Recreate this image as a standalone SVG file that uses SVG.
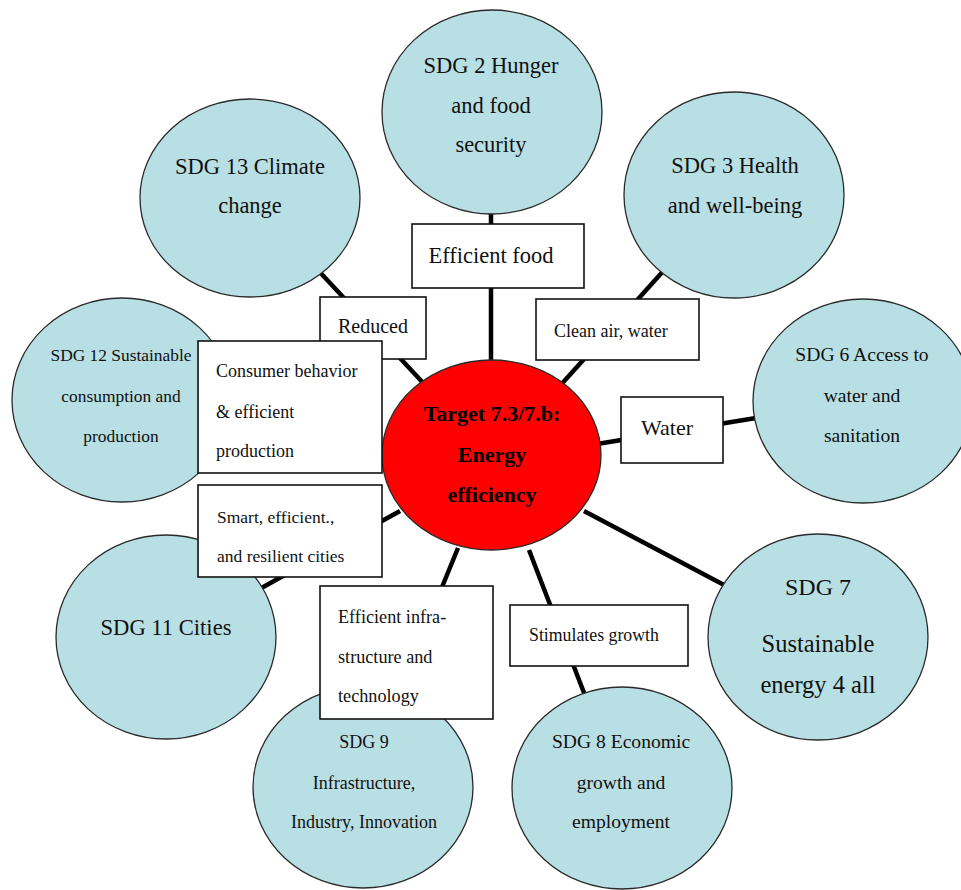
<svg xmlns="http://www.w3.org/2000/svg" width="961" height="890" viewBox="0 0 961 890">
  <style>
    .sdg { fill: #b8dfe3; stroke: #2a2a2a; stroke-width: 1.3; }
    .hub { fill: #ff0000; stroke: #2a2a2a; stroke-width: 1.3; }
    .box { fill: #ffffff; stroke: #111111; stroke-width: 1.6; }
    .link { stroke: #000000; stroke-width: 4.5; fill: none; }
    text { font-family: "Liberation Serif", "Times New Roman", serif; fill: #111111; }
    .c { text-anchor: middle; }
    .hubtxt { font-weight: bold; font-size: 22px; text-anchor: middle; fill: #000; }
  </style>

  <!-- connectors from the hub to each goal -->
  <g id="connectors">
    <line class="link" x1="491" y1="212" x2="491" y2="362"/>
    <line class="link" x1="316" y1="268" x2="426" y2="386"/>
    <line class="link" x1="666" y1="268" x2="558" y2="388"/>
    <line class="link" x1="597" y1="444" x2="756" y2="418"/>
    <line class="link" x1="584" y1="511" x2="726" y2="586"/>
    <line class="link" x1="529" y1="550" x2="586" y2="698"/>
    <line class="link" x1="458" y1="548" x2="440" y2="592"/>
    <line class="link" x1="400" y1="511" x2="256" y2="591"/>
    <line class="link" x1="230" y1="405" x2="378" y2="418"/>
  </g>

  <g id="sdg2">
    <ellipse class="sdg" cx="492" cy="112" rx="110" ry="102"/>
    <text class="c" x="491" y="73" font-size="22.5">SDG 2 Hunger</text>
    <text class="c" x="491" y="113" font-size="22.5">and food</text>
    <text class="c" x="491" y="152" font-size="22.5">security</text>
  </g>

  <g id="sdg13">
    <ellipse class="sdg" cx="250" cy="198" rx="110" ry="99"/>
    <text class="c" x="250" y="174" font-size="22.5">SDG 13 Climate</text>
    <text class="c" x="250" y="213" font-size="22.5">change</text>
  </g>

  <g id="sdg3">
    <ellipse class="sdg" cx="734" cy="195" rx="110" ry="103"/>
    <text class="c" x="735" y="173" font-size="22.5">SDG 3 Health</text>
    <text class="c" x="735" y="213" font-size="22.5">and well-being</text>
  </g>

  <g id="sdg12">
    <ellipse class="sdg" cx="122" cy="400" rx="110" ry="102"/>
    <text class="c" x="121" y="361" font-size="17.4">SDG 12 Sustainable</text>
    <text class="c" x="121" y="402" font-size="17.4">consumption and</text>
    <text class="c" x="121" y="442" font-size="17.4">production</text>
  </g>

  <g id="sdg6">
    <ellipse class="sdg" cx="863" cy="401" rx="110" ry="102"/>
    <text class="c" x="862" y="361" font-size="19.6">SDG 6 Access to</text>
    <text class="c" x="862" y="402" font-size="19.6">water and</text>
    <text class="c" x="862" y="442" font-size="19.6">sanitation</text>
  </g>

  <g id="sdg7">
    <ellipse class="sdg" cx="818" cy="637" rx="110" ry="103"/>
    <text class="c" x="818" y="595" font-size="24">SDG 7</text>
    <text class="c" x="818" y="652" font-size="24.5">Sustainable</text>
    <text class="c" x="818" y="693" font-size="24.5">energy 4 all</text>
  </g>

  <g id="sdg11">
    <ellipse class="sdg" cx="166" cy="637" rx="110" ry="102"/>
    <text class="c" x="166" y="635" font-size="22.6">SDG 11 Cities</text>
  </g>

  <g id="sdg9">
    <ellipse class="sdg" cx="363" cy="787" rx="110" ry="101"/>
    <text class="c" x="364" y="748" font-size="18">SDG 9</text>
    <text class="c" x="364" y="789" font-size="18">Infrastructure,</text>
    <text class="c" x="364" y="828" font-size="18">Industry, Innovation</text>
  </g>

  <g id="sdg8">
    <ellipse class="sdg" cx="622" cy="788" rx="110" ry="101"/>
    <text class="c" x="621" y="748" font-size="19.6">SDG 8 Economic</text>
    <text class="c" x="621" y="789" font-size="19.6">growth and</text>
    <text class="c" x="621" y="828" font-size="19.6">employment</text>
  </g>

  <!-- central target -->
  <g id="target">
    <ellipse class="hub" cx="491.5" cy="455" rx="109.5" ry="95"/>
    <text class="hubtxt" x="492" y="421">Target 7.3/7.b:</text>
    <text class="hubtxt" x="492" y="462">Energy</text>
    <text class="hubtxt" x="492" y="502">efficiency</text>
  </g>

  <!-- link labels -->
  <g id="label-food">
    <rect class="box" x="412" y="224" width="172" height="64"/>
    <text class="c" x="491" y="263" font-size="22.5">Efficient food</text>
  </g>

  <g id="label-reduced">
    <rect class="box" x="320" y="297" width="106" height="62"/>
    <text class="c" x="373" y="333" font-size="20">Reduced</text>
  </g>

  <g id="label-clean">
    <rect class="box" x="536" y="299" width="163" height="61"/>
    <text x="554" y="337" font-size="18">Clean air, water</text>
  </g>

  <g id="label-consumer">
    <rect class="box" x="198" y="341" width="184" height="132"/>
    <text x="216" y="377" font-size="18">Consumer behavior</text>
    <text x="216" y="418" font-size="18">&amp; efficient</text>
    <text x="216" y="457" font-size="18">production</text>
  </g>

  <g id="label-water">
    <rect class="box" x="621" y="397" width="102" height="66"/>
    <text class="c" x="667" y="435" font-size="22">Water</text>
  </g>

  <g id="label-cities">
    <rect class="box" x="198" y="485" width="184" height="92"/>
    <text x="217" y="523" font-size="17.5">Smart, efficient.,</text>
    <text x="217" y="562" font-size="17.5">and resilient cities</text>
  </g>

  <g id="label-infra">
    <rect class="box" x="320" y="586" width="173" height="133"/>
    <text x="338" y="623" font-size="18.2">Efficient infra-</text>
    <text x="338" y="663" font-size="18.2">structure and</text>
    <text x="338" y="702" font-size="18.2">technology</text>
  </g>

  <g id="label-growth">
    <rect class="box" x="510" y="605" width="178" height="61"/>
    <text x="529" y="641" font-size="17.8">Stimulates growth</text>
  </g>
</svg>
